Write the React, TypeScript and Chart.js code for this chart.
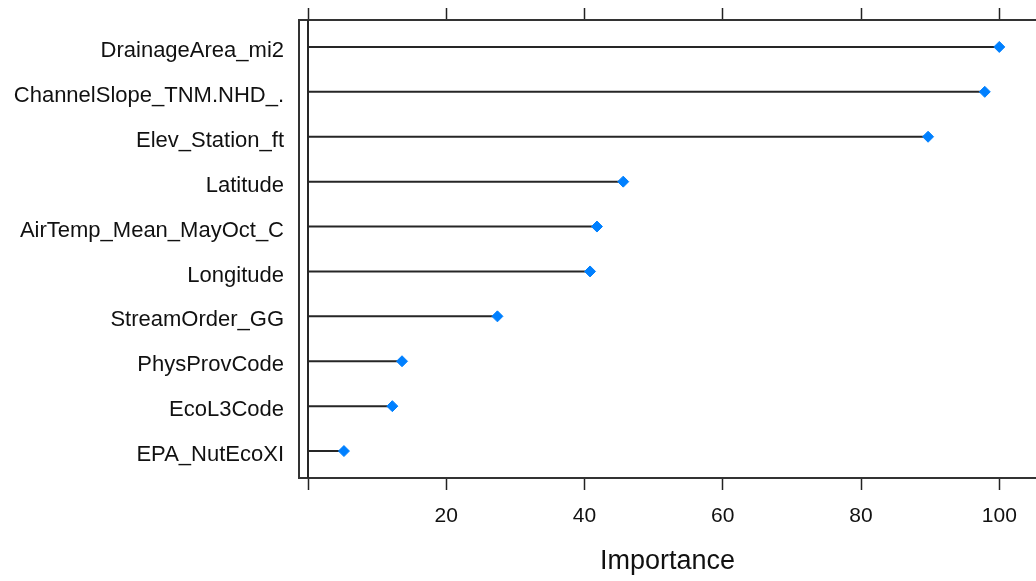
import { useEffect, useRef } from "react";
import { Chart, registerables } from "chart.js";

Chart.register(...registerables);

const variables = [
  "DrainageArea_mi2",
  "ChannelSlope_TNM.NHD_.",
  "Elev_Station_ft",
  "Latitude",
  "AirTemp_Mean_MayOct_C",
  "Longitude",
  "StreamOrder_GG",
  "PhysProvCode",
  "EcoL3Code",
  "EPA_NutEcoXI",
];
const importance = [100, 97.9, 89.7, 45.6, 41.8, 40.8, 27.4, 13.6, 12.2, 5.2];
const xTicks = [0, 20, 40, 60, 80, 100];
const xTickLabels = ["", "20", "40", "60", "80", "100"];
const axisTitle = "Importance";

const FONT = "'Liberation Sans', Arial, 'DejaVu Sans', sans-serif";
const FRAME = "#333333";
const DOT = "#0080ff";
const STEM = "#262626";

const zeroLine = {
  id: "zeroLine",
  beforeDatasetsDraw(chart: any) {
    const { ctx, chartArea, scales } = chart;
    const x = scales.x.getPixelForValue(0);
    ctx.save();
    ctx.strokeStyle = STEM;
    ctx.lineWidth = 2;
    ctx.beginPath();
    ctx.moveTo(x, chartArea.top);
    ctx.lineTo(x, chartArea.bottom);
    ctx.stroke();
    ctx.restore();
  },
};

export default function App() {
  const ref = useRef<HTMLCanvasElement | null>(null);

  useEffect(() => {
    if (!ref.current) return;
    const stems = importance.map((v, i) => ({
      type: "line" as const,
      data: [
        { x: 0, y: i + 1 },
        { x: v, y: i + 1 },
      ],
      showLine: true,
      borderColor: STEM,
      borderWidth: 2,
      pointRadius: 0,
      order: 2,
    }));
    const points = {
      type: "scatter" as const,
      data: importance.map((v, i) => ({ x: v, y: i + 1 })),
      pointStyle: "rectRot",
      pointRadius: 5.5,
      pointBorderWidth: 1,
      backgroundColor: DOT,
      borderColor: DOT,
      showLine: false,
      order: 0,
    };
    const setXTicks = (scale: any) => {
      scale.ticks = xTicks.map((v) => ({ value: v }));
    };
    const chart = new Chart(ref.current, {
      type: "scatter",
      data: { datasets: [points as any, ...(stems as any[])] },
      plugins: [zeroLine],
      options: {
        animation: false,
        responsive: false,
        devicePixelRatio: 1,
        layout: { padding: 0, autoPadding: false },
        plugins: { legend: { display: false }, tooltip: { enabled: false } },
        scales: {
          x: {
            type: "linear",
            position: "bottom",
            min: -1.302,
            max: 105.31,
            afterBuildTicks: setXTicks,
            afterFit: (scale: any) => {
              scale.height = 103;
              scale.paddingLeft = 0;
              scale.paddingRight = 0;
            },
            ticks: {
              autoSkip: false,
              maxRotation: 0,
              padding: 14,
              color: "#111",
              font: { family: FONT, size: 21 },
              callback: (value: any) => xTickLabels[xTicks.indexOf(Number(value))] ?? "",
            },
            grid: {
              drawOnChartArea: false,
              drawTicks: true,
              tickLength: 12,
              tickWidth: 1.5,
              tickColor: "#222",
            },
            border: { display: true, color: FRAME, width: 2 },
            title: {
              display: true,
              text: axisTitle,
              color: "#111",
              font: { family: FONT, size: 27 },
              padding: { top: 0, bottom: 3 },
            },
          },
          x2: {
            type: "linear",
            position: "top",
            min: -1.302,
            max: 105.31,
            afterBuildTicks: setXTicks,
            afterFit: (scale: any) => {
              scale.height = 20;
              scale.paddingLeft = 0;
              scale.paddingRight = 0;
            },
            ticks: { display: false },
            grid: {
              drawOnChartArea: false,
              drawTicks: true,
              tickLength: 12,
              tickWidth: 1.5,
              tickColor: "#222",
            },
            border: { display: true, color: FRAME, width: 2 },
          },
          y: {
            type: "linear",
            position: "left",
            reverse: true,
            min: 0.4,
            max: 10.6,
            afterBuildTicks: (scale: any) => {
              scale.ticks = variables.map((_, i) => ({ value: i + 1 }));
            },
            afterFit: (scale: any) => {
              scale.width = 299;
              scale.paddingTop = 0;
              scale.paddingBottom = 0;
            },
            ticks: {
              autoSkip: false,
              padding: 15,
              color: "#111",
              font: { family: FONT, size: 22, lineHeight: 8 / 22 },
              callback: (value: any) => ["", variables[Number(value) - 1] ?? ""],
            },
            grid: { drawOnChartArea: false, drawTicks: false },
            border: { display: true, color: FRAME, width: 2 },
          },
        },
      } as any,
    });
    return () => chart.destroy();
  }, []);

  return (
    <canvas
      ref={ref}
      width={1036}
      height={581}
      style={{ position: "fixed", left: 0, top: 0, width: 1036, height: 581, background: "#fff" }}
    />
  );
}
